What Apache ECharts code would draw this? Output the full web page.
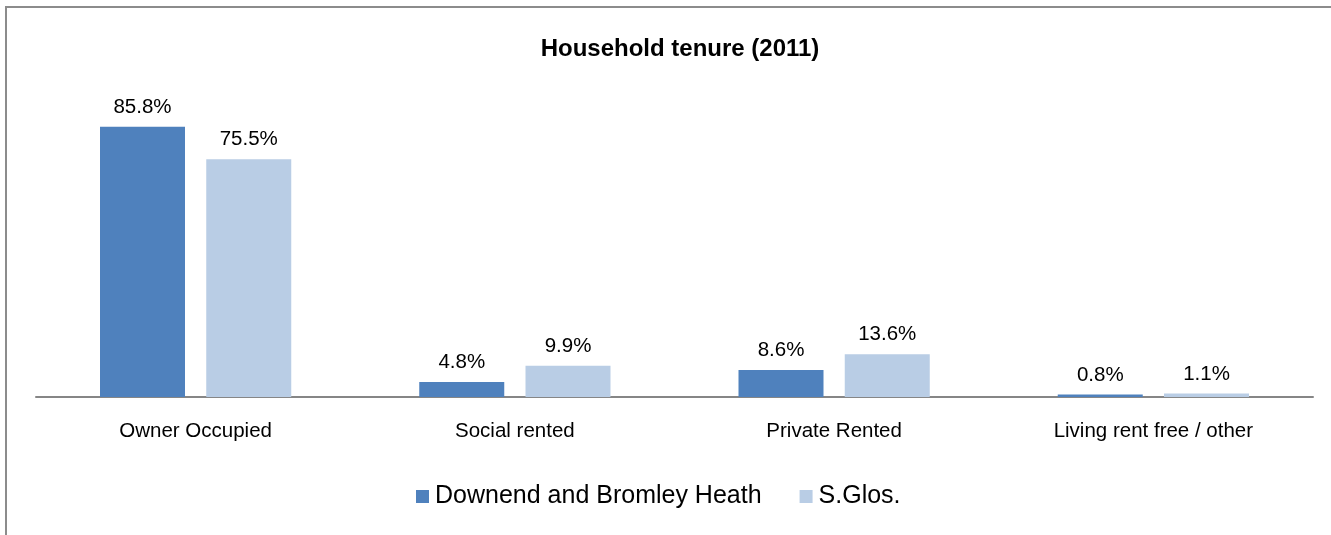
<!DOCTYPE html>
<html>
<head>
<meta charset="utf-8">
<script src="https://cdn.jsdelivr.net/npm/echarts@6/dist/echarts.min.js"></script>
<style>
html,body{margin:0;padding:0;background:#fff;}
#c{width:1331px;height:535px;}
</style>
</head>
<body>
<div id="c"></div>
<script>
const categories = ['Owner Occupied', 'Social rented', 'Private Rented', 'Living rent free / other'];
const seriesNames = ['Downend and Bromley Heath', 'S.Glos.'];
const downendValues = [85.8, 4.8, 8.6, 0.8];
const sglosValues = [75.5, 9.9, 13.6, 1.1];

const chart = echarts.init(document.getElementById('c'), null, {renderer: 'canvas'});
const FONT = '"Liberation Sans", Arial, sans-serif';
const labelStyle = {
  show: true, position: 'top', distance: 9,
  formatter: p => p.value.toFixed(1) + '%',
  color: '#000', fontFamily: FONT, fontSize: 20.5
};
chart.setOption({
  animation: false,
  backgroundColor: '#fff',
  title: {
    text: 'Household tenure (2011)',
    left: 675, top: 32, textAlign: 'center',
    textStyle: {fontFamily: FONT, fontSize: 24, fontWeight: 'bold', color: '#000'}
  },
  graphic: [{
    type: 'rect', silent: true,
    shape: {x: 6, y: 7, width: 1500, height: 700},
    style: {fill: 'none', stroke: '#8c8c8c', lineWidth: 2}
  }],
  legend: {
    data: seriesNames,
    left: 411, top: 479,
    itemWidth: 13, itemHeight: 13, itemGap: 38,
    icon: 'rect',
    textStyle: {fontFamily: FONT, fontSize: 25, color: '#000', padding: [0,0,0,1]}
  },
  grid: {left: 36, right: 18, top: 82, bottom: 138, containLabel: false},
  xAxis: {
    type: 'category', data: categories,
    axisLine: {lineStyle: {color: '#868686', width: 2}},
    axisTick: {show: false},
    axisLabel: {color: '#000', fontFamily: FONT, fontSize: 20.5, margin: 24}
  },
  yAxis: {
    type: 'value', min: 0, max: 100, show: false,
    splitLine: {show: false}
  },
  series: [
    {name: seriesNames[0], type: 'bar', data: downendValues, barWidth: 85, barGap: '25%',
     itemStyle: {color: '#4F81BD'}, label: labelStyle},
    {name: seriesNames[1], type: 'bar', data: sglosValues, barWidth: 85,
     itemStyle: {color: '#B9CDE5'}, label: labelStyle}
  ]
});
</script>
</body>
</html>
